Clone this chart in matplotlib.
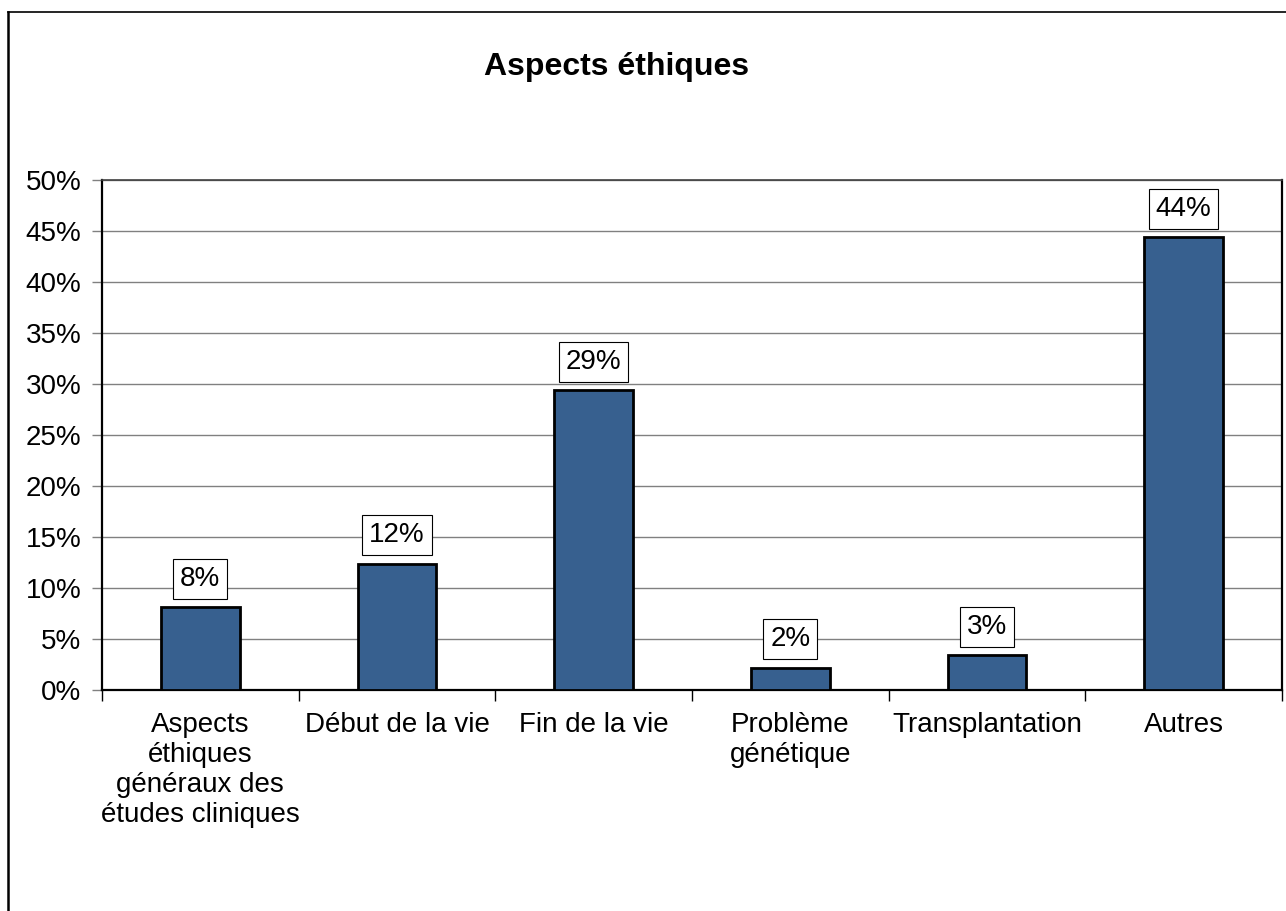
import matplotlib
matplotlib.use("Agg")
import matplotlib.pyplot as plt
from matplotlib.lines import Line2D
import numpy as np

categories = ["Aspects\néthiques\ngénéraux des\nétudes cliniques", "Début de la vie",
              "Fin de la vie", "Problème\ngénétique", "Transplantation", "Autres"]
values = [8.1, 12.4, 29.4, 2.2, 3.4, 44.4]
labels = ["8%", "12%", "29%", "2%", "3%", "44%"]
yticks = [0, 5, 10, 15, 20, 25, 30, 35, 40, 45, 50]

plt.rcParams['font.family'] = ['Liberation Sans', 'DejaVu Sans']

W, H = 1286, 911
fig = plt.figure(figsize=(W/100, H/100), dpi=100)
ax = fig.add_axes([102/W, 1-690/H, (1282-102)/W, (690-180)/H])

x = np.arange(len(categories))
ax.bar(x, values, width=0.4, color="#37608F", edgecolor="black", linewidth=2.0, zorder=3)
ax.set_xlim(-0.5, len(categories)-0.5)
ax.set_ylim(0, 50)
ax.set_yticks(yticks)
ax.set_yticklabels([f"{t}%" for t in yticks], fontsize=20)
ax.yaxis.grid(True, color="#808080", linewidth=1.0, zorder=0)
ax.set_xticks(x)
ax.set_xticklabels(categories, fontsize=20, linespacing=1.19, va="top")
ax.tick_params(axis="x", length=0, pad=16)
ax.set_xticks(np.arange(len(categories)+1)-0.5, minor=True)
ax.tick_params(axis="x", which="minor", length=8, width=1, color="black", direction="out")
ax.tick_params(axis="y", length=7, width=1, color="#808080", pad=8)
for s in ["left", "right", "bottom"]:
    ax.spines[s].set_linewidth(1.6)
    ax.spines[s].set_color("black")
ax.spines["top"].set_linewidth(1.2)
ax.spines["top"].set_color("#404040")

for xi, v, lab in zip(x, values, labels):
    ax.annotate(lab, (xi, v), xytext=(0, 11), textcoords="offset points",
                ha="center", va="bottom", fontsize=20, zorder=4,
                bbox=dict(boxstyle="square,pad=0.25", facecolor="white",
                          edgecolor="black", linewidth=0.8))

fig.text(617/W, 1-67/H, "Aspects éthiques", ha="center", va="center",
         fontsize=23, fontweight="bold")

# outer chart border (left and top edges visible)
fig.add_artist(Line2D([8/W, 8/W], [0, 1-12/H], color="black", linewidth=1.8,
                      transform=fig.transFigure))
fig.add_artist(Line2D([8/W, 1], [1-12/H, 1-12/H], color="black", linewidth=1.2,
                      transform=fig.transFigure))

fig.savefig("out.png", dpi=100)
